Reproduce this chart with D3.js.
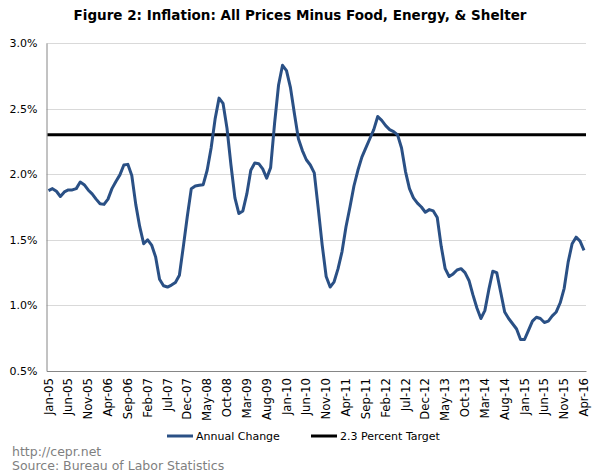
<!DOCTYPE html>
<html><head><meta charset="utf-8">
<script src="https://cdn.jsdelivr.net/npm/d3@7"></script>
<style>body{margin:0;background:#fff;} svg{display:block;}</style>
</head><body>
<svg id="chart" width="600" height="476"></svg>
<script>
const titleText = "Figure 2: Inflation: All Prices Minus Food, Energy, & Shelter";
const startYear = 2005;
const monthCount = 136;
const annualChange = [
 1.875,1.89,1.87,1.83,1.865,1.88,1.88,1.89,1.94,1.92,1.88,1.85,
 1.81,1.775,1.77,1.81,1.89,1.945,1.995,2.07,2.075,1.99,1.77,1.60,
 1.47,1.50,1.46,1.37,1.20,1.15,1.14,1.155,1.175,1.23,1.45,1.68,
 1.89,1.91,1.915,1.92,2.03,2.20,2.42,2.58,2.54,2.35,2.07,1.82,
 1.70,1.72,1.85,2.03,2.085,2.08,2.04,1.97,2.05,2.39,2.68,2.83,
 2.79,2.66,2.46,2.27,2.18,2.11,2.07,2.01,1.74,1.46,1.22,1.14,
 1.18,1.28,1.41,1.60,1.75,1.91,2.03,2.13,2.20,2.27,2.34,2.44,
 2.41,2.37,2.34,2.325,2.30,2.20,2.02,1.89,1.82,1.78,1.75,1.71,
 1.73,1.72,1.67,1.45,1.28,1.22,1.24,1.27,1.28,1.25,1.19,1.08,
 0.98,0.90,0.96,1.12,1.26,1.25,1.10,0.95,0.90,0.86,0.82,0.74,
 0.74,0.81,0.88,0.91,0.90,0.87,0.88,0.92,0.95,1.02,1.13,1.33,
 1.47,1.52,1.49,1.42
];
const targetValue = 2.3;
const yTicks = [0.5,1.0,1.5,2.0,2.5,3.0];
const tickLabels = ["Jan-05","Jun-05","Nov-05","Apr-06","Sep-06","Feb-07","Jul-07","Dec-07","May-08","Oct-08","Mar-09","Aug-09","Jan-10","Jun-10","Nov-10","Apr-11","Sep-11","Feb-12","Jul-12","Dec-12","May-13","Oct-13","Mar-14","Aug-14","Jan-15","Jun-15","Nov-15","Apr-16"];
const seriesNames = ["Annual Change","2.3 Percent Target"];
const sourceLines = ["http://cepr.net","Source: Bureau of Labor Statistics"];

const fmt = d3.timeFormat("%b-%y");
const months = d3.range(monthCount).map(i => fmt(new Date(startYear, i, 1)));

const svg = d3.select("#chart");
const font = "'DejaVu Sans', Verdana, sans-serif";
const plotLeft = 46.5, plotRight = 586, plotTop = 43, plotBottom = 371;

const x = d3.scaleBand().domain(months).range([plotLeft, plotRight]).padding(0);
const xc = d => x(d) + x.bandwidth()/2;
const y = d3.scaleLinear().domain([0.5, 3.0]).range([plotBottom, plotTop]);

// title
svg.append("text").attr("x", 300).attr("y", 20).attr("text-anchor","middle")
  .style("font-family", font).style("font-weight","bold").style("font-size","13.5px")
  .attr("fill","#000").text(titleText);

// gridlines
svg.append("g").selectAll("line").data(yTicks.filter(v => v > 0.5)).join("line")
  .attr("x1", plotLeft).attr("x2", plotRight).attr("y1", d => Math.round(y(d))+0.5).attr("y2", d => Math.round(y(d))+0.5)
  .attr("stroke","#d9d9d9").attr("stroke-width",1);

// y axis
const yAxis = svg.append("g").attr("transform", `translate(${plotLeft},0)`)
  .call(d3.axisLeft(y).tickValues(yTicks).tickFormat(d => d.toFixed(1)+"%").tickSize(0).tickPadding(9));
yAxis.select(".domain").attr("stroke","#868686");
yAxis.selectAll("text").style("font-family", font).style("font-size","11px").attr("fill","#000");

// x axis
const xAxis = svg.append("g").attr("transform", `translate(0,${plotBottom})`)
  .call(d3.axisBottom(x).tickValues(months.filter(m => tickLabels.includes(m))).tickSize(0).tickPadding(0));
xAxis.select(".domain").attr("stroke","#868686");
xAxis.selectAll("text").style("font-family", font).style("font-size","11.7px").attr("fill","#000")
  .attr("text-anchor","end").attr("transform","rotate(-90)").attr("x",-7).attr("y",0).attr("dy","0.35em");

// target line
svg.append("line").attr("x1", plotLeft+1).attr("x2", plotRight).attr("y1", y(targetValue)).attr("y2", y(targetValue))
  .attr("stroke","#000").attr("stroke-width",3);

// series line
const line = d3.line().x((d,i) => xc(months[i])).y(d => y(d));
svg.append("path").datum(annualChange).attr("d", line).attr("fill","none")
  .attr("stroke","#2a5085").attr("stroke-width",3).attr("stroke-linejoin","round");

// legend
const legend = [{name: seriesNames[0], color:"#2a5085", x:167},{name: seriesNames[1], color:"#000", x:311}];
const lg = svg.append("g").selectAll("g").data(legend).join("g").attr("transform", d => `translate(${d.x},436)`);
lg.append("line").attr("x1",0).attr("x2",26).attr("y1",0).attr("y2",0).attr("stroke", d => d.color).attr("stroke-width",3);
lg.append("text").attr("x",29).attr("y",0).attr("dy","0.35em").style("font-family", font).style("font-size","11px")
  .attr("fill","#000").text(d => d.name);

// source
svg.append("g").selectAll("text").data(sourceLines).join("text")
  .attr("x",12).attr("y",(d,i) => 456 + i*14)
  .style("font-family", font).style("font-size","12.5px").attr("fill","#7f7f7f").text(d => d);
</script>
</body></html>
